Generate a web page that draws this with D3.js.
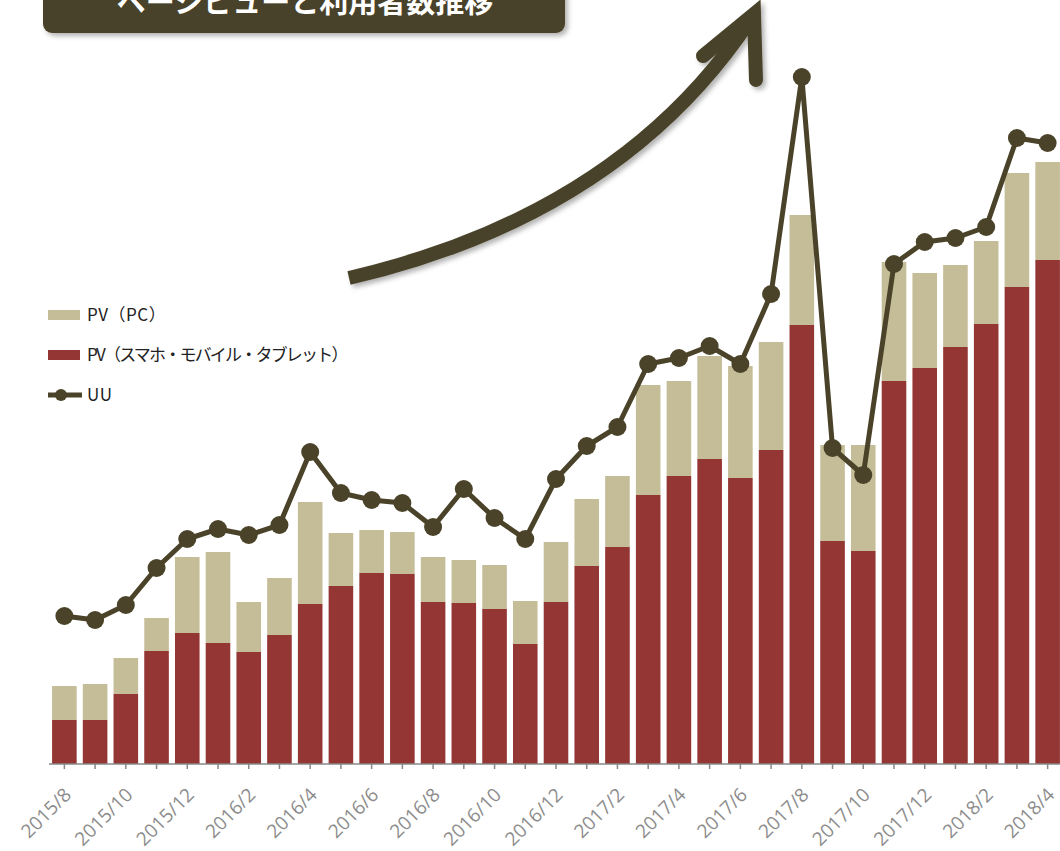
<!DOCTYPE html>
<html>
<head>
<meta charset="utf-8">
<script src="https://cdn.jsdelivr.net/npm/d3@7"></script>
<style>
  body { margin: 0; background: #fff; }
  svg { display: block; font-family: "Noto Sans CJK JP", "Noto Sans", sans-serif; }
</style>
</head>
<body>
<svg id="chart" width="1060" height="851"></svg>
<script>
// months shown on the x axis
var months = ["2015/8","2015/9","2015/10","2015/11","2015/12",
  "2016/1","2016/2","2016/3","2016/4","2016/5","2016/6","2016/7","2016/8","2016/9","2016/10","2016/11","2016/12",
  "2017/1","2017/2","2017/3","2017/4","2017/5","2017/6","2017/7","2017/8","2017/9","2017/10","2017/11","2017/12",
  "2018/1","2018/2","2018/3","2018/4"];

// PV (smartphone / mobile / tablet) - bottom stack
var pvMobile = [44,44,70,113,131,121,112,129,160,178,191,190,162,161,155,120,162,
  198,217,269,288,305,286,314,439,223,213,383,396,417,440,477,504];

// PV (PC) - top stack
var pvPC = [34,36,36,33,76,91,50,57,102,53,43,42,45,43,44,43,60,
  67,71,110,95,103,112,108,110,96,106,119,95,82,83,114,98];

// UU line
var uu = [148,144,159,196,225,235,229,239,312,271,264,261,237,275,246,225,285,
  318,337,400,406,418,400,470,687,316,289,500,522,526,537,626,621];

var title = "ページビューと利用者数推移";
var legendLabels = ["PV（PC）", "PV（スマホ・モバイル・タブレット）", "UU"];

var colRed = "#943634", colTan = "#c4bd97", colLine = "#4a4329";

var svg = d3.select("#chart");
var baseY = 764;

var x = d3.scaleBand().domain(months).range([49, 1063]).paddingInner(0.2).paddingOuter(0.1);
var y = d3.scaleLinear().domain([0, 700]).range([baseY, 64]);
var yUU = d3.scaleLinear().domain([0, 700]).range([baseY, 64]);

var defs = svg.append("defs");
var f = defs.append("filter").attr("id","shadow").attr("x","-20%").attr("y","-20%").attr("width","140%").attr("height","140%");
f.append("feDropShadow").attr("dx",3).attr("dy",3).attr("stdDeviation",2.5)
  .attr("flood-color","#000").attr("flood-opacity",0.3);

var data = months.map(function(m,i){ return {m:m, mob:pvMobile[i], pc:pvPC[i], uu:uu[i]}; });

// bars
var bars = svg.append("g");
bars.selectAll(".mob").data(data).enter().append("rect")
  .attr("x", function(d){ return x(d.m); })
  .attr("y", function(d){ return y(d.mob); })
  .attr("width", x.bandwidth())
  .attr("height", function(d){ return baseY - y(d.mob); })
  .attr("fill", colRed);
bars.selectAll(".pc").data(data).enter().append("rect")
  .attr("x", function(d){ return x(d.m); })
  .attr("y", function(d){ return y(d.mob + d.pc); })
  .attr("width", x.bandwidth())
  .attr("height", function(d){ return y(d.mob) - y(d.mob + d.pc); })
  .attr("fill", colTan);

// x axis
var axis = svg.append("g").attr("transform","translate(0," + baseY + ")");
axis.append("line").attr("x1",49).attr("x2",1060).attr("y1",0).attr("y2",0)
  .attr("stroke","#888").attr("stroke-width",1.5);
axis.selectAll(".tick").data(months).enter().append("line")
  .attr("x1", function(d){ return x(d) + x.bandwidth()/2; })
  .attr("x2", function(d){ return x(d) + x.bandwidth()/2; })
  .attr("y1",0).attr("y2",5)
  .attr("stroke","#888").attr("stroke-width",1.5);
axis.selectAll(".lbl").data(months.filter(function(d,i){ return i % 2 == 0; })).enter().append("text")
  .attr("transform", function(d){ return "translate(" + (x(d) + x.bandwidth()/2 + 8) + ",32) rotate(-45)"; })
  .attr("text-anchor","end")
  .attr("fill","#8c8c8c")
  .style("font-family","'Open Sans', 'Noto Sans', sans-serif")
  .style("font-size","19px")
  .text(function(d){ return d; });

// UU line
var line = d3.line()
  .x(function(d){ return x(d.m) + x.bandwidth()/2; })
  .y(function(d){ return yUU(d.uu); });
svg.append("path").datum(data).attr("d", line)
  .attr("fill","none").attr("stroke",colLine).attr("stroke-width",5).attr("stroke-linejoin","round");
svg.selectAll(".dot").data(data).enter().append("circle")
  .attr("cx", function(d){ return x(d.m) + x.bandwidth()/2; })
  .attr("cy", function(d){ return yUU(d.uu); })
  .attr("r", 9)
  .attr("fill", colLine);

// legend
var lg = svg.append("g").attr("transform","translate(48,315)");
lg.append("rect").attr("x",0).attr("y",-5).attr("width",32).attr("height",10).attr("fill",colTan);
lg.append("rect").attr("x",0).attr("y",35).attr("width",32).attr("height",10).attr("fill",colRed);
lg.append("line").attr("x1",0).attr("x2",34).attr("y1",80).attr("y2",80).attr("stroke",colLine).attr("stroke-width",5);
lg.append("circle").attr("cx",13).attr("cy",80).attr("r",6).attr("fill",colLine);
lg.selectAll("text").data(legendLabels).enter().append("text")
  .attr("x",39).attr("y",function(d,i){ return i*40; })
  .attr("dy","0.35em")
  .attr("fill","#222")
  .style("font-size","17px")
  .style("letter-spacing", function(d,i){ return i == 1 ? "-1.8px" : "0.5px"; })
  .text(function(d){ return d; });

// arrow
var arrow = svg.append("g").attr("filter","url(#shadow)");
arrow.append("path")
  .attr("d","M349,278 Q620,215 750,20")
  .attr("fill","none").attr("stroke",colLine).attr("stroke-width",14);
arrow.append("path")
  .attr("d","M703,56 L754,14 L756,80")
  .attr("fill","none").attr("stroke",colLine).attr("stroke-width",14)
  .attr("stroke-linecap","round").attr("stroke-linejoin","miter");

// title box
var tb = svg.append("g");
tb.append("rect").attr("x",43).attr("y",-20).attr("width",522).attr("height",53).attr("rx",9)
  .attr("fill",colLine).attr("filter","url(#shadow)");
tb.append("text").attr("x",305).attr("y",13).attr("text-anchor","middle")
  .attr("fill","#fff").style("font-size","29px").style("font-weight","bold")
  .text(title);
</script>
</body>
</html>
